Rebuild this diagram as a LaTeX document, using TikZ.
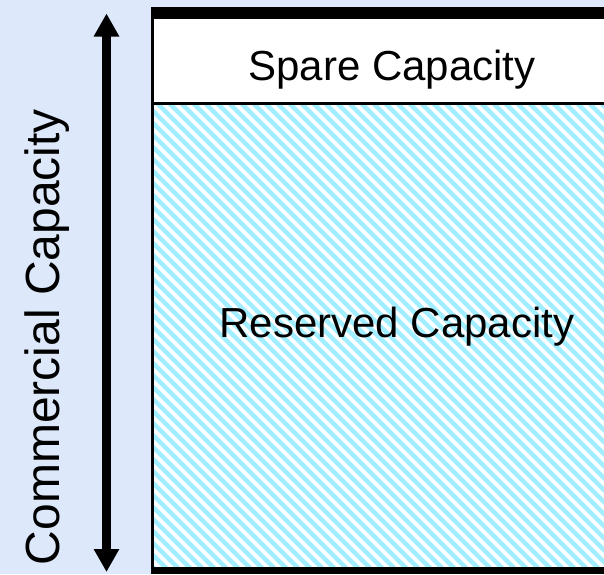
\documentclass[tikz,border=0pt]{standalone}
\usepackage{fontspec}
\setmainfont{Liberation Sans}
\usetikzlibrary{arrows.meta}
\definecolor{bgblue}{RGB}{221,232,250}
\definecolor{hatchcyan}{RGB}{160,238,255}
\tikzset{
  lbl/.style={font=\fontsize{42}{50}\selectfont, anchor=base, inner sep=0pt},
  bigarrow/.style={line width=8.5pt, {Triangle[length=23pt,width=24pt]}-{Triangle[length=23pt,width=24pt]}},
  hatch/.style={hatchcyan, line width=4.3pt}
}
\begin{document}
\begin{tikzpicture}[x=1pt,y=-1pt]
\useasboundingbox (0,0) rectangle (604,574);
\fill[bgblue] (0,0) rectangle (604,574);
% box body
\fill[white] (152,19) rectangle (604,567);
\begin{scope}
\clip (153,104.5) rectangle (604,567);
\foreach \k in {-480,-468,...,620} {
  \draw[hatch] (\k,90) -- ({\k+500},590);
}
\end{scope}
% borders
\fill[black] (151,7) rectangle (604,19);
\fill[black] (151,567) rectangle (604,574);
\fill[black] (151,7) rectangle (153.5,574);
\draw[line width=2.5pt] (153,103.5) -- (604,103.5);
% labels
\node[lbl] (spare) at (392,80) {Spare Capacity};
\node[lbl] (reserved) at (397,337) {Reserved Capacity};
\node[font=\fontsize{48}{56}\selectfont, rotate=90, anchor=base, inner sep=0pt] (comm) at (59,337) {Commercial Capacity};
% arrow
\coordinate (atop) at (106.5,13.5);
\coordinate (abot) at (106.5,572);
\draw[bigarrow] (atop) -- (abot);
\end{tikzpicture}
\end{document}
